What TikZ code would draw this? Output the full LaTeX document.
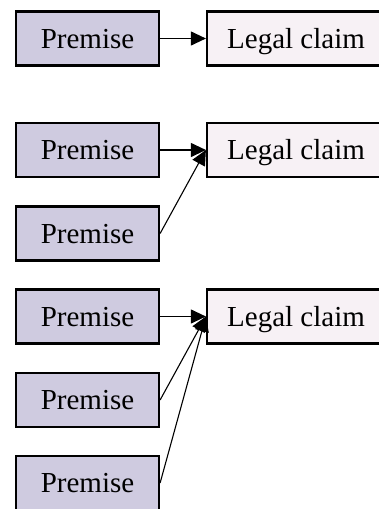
\documentclass[tikz,border=0pt]{standalone}
\usepackage{fontspec}
\setmainfont{Liberation Serif}
\usetikzlibrary{arrows.meta}
\definecolor{premfill}{RGB}{207,203,224}
\definecolor{claimfill}{RGB}{247,241,245}
\begin{document}
\begin{tikzpicture}[x=1pt,y=-1pt,
  box/.style={draw=black,line width=2.2pt,inner sep=0pt,minimum height=54pt,
    text height=19.2pt,text depth=0pt,font=\fontsize{29}{34}\selectfont},
  premise/.style={box,fill=premfill,minimum width=143pt},
  claim/.style={box,fill=claimfill,minimum width=178pt},
  link/.style={line width=1.1pt,-{Triangle[length=15pt,width=14pt]}}]
\clip (0,0) rectangle (379,509);
% group 1
\node[premise] (a1) at (87.5,38.5) {Premise};
\node[claim] (ac) at (296,38.5) {Legal claim};
\draw[link] (a1.east) -- (ac.west);
% group 2
\node[premise] (b1) at (87.5,150) {Premise};
\node[premise] (b2) at (87.5,233.5) {Premise};
\node[claim] (bc) at (296,150) {Legal claim};
\draw[link] (b1.east) -- (bc.west);
\draw[link] (b2.east) -- (bc.west);
% group 3
\node[premise] (c1) at (87.5,316.5) {Premise};
\node[premise] (c2) at (87.5,400) {Premise};
\node[premise] (c3) at (87.5,483) {Premise};
\node[claim] (cc) at (296,316.5) {Legal claim};
\draw[link] (c1.east) -- (cc.west);
\draw[link] (c2.east) -- (cc.west);
\draw[link] (c3.east) -- (cc.west);
\end{tikzpicture}
\end{document}
